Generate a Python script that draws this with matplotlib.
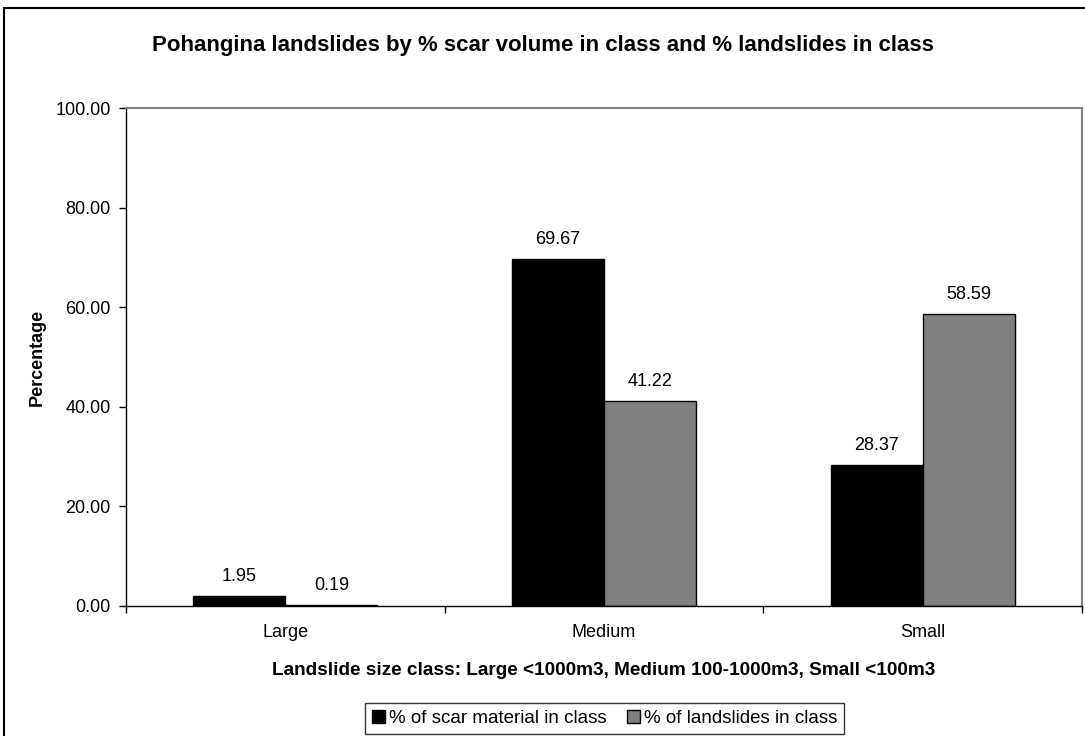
import matplotlib
matplotlib.use("Agg")
import matplotlib.pyplot as plt
from matplotlib.patches import Rectangle
import numpy as np

plt.rcParams['font.family'] = ['Liberation Sans', 'DejaVu Sans']

# Data
categories = ["Large", "Medium", "Small"]
scar_pct = [1.95, 69.67, 28.37]
slide_pct = [0.19, 41.22, 58.59]
series_names = ["% of scar material in class", "% of landslides in class"]

fig = plt.figure(figsize=(10.85, 7.36), dpi=100)
ax = fig.add_axes([126/1085, 1 - 606/736, (1082 - 126)/1085, (606 - 108)/736])

x = np.arange(len(categories))
w = 0.289
b1 = ax.bar(x - w/2, scar_pct, w, color="black", edgecolor="black", linewidth=1, label=series_names[0])
b2 = ax.bar(x + w/2, slide_pct, w, color="#808080", edgecolor="black", linewidth=1, label=series_names[1])

for bars, vals in [(b1, scar_pct), (b2, slide_pct)]:
    for r, v in zip(bars, vals):
        ax.annotate(f"{v:.2f}", (r.get_x() + r.get_width()/2, v), xytext=(0, 8),
                    textcoords="offset points", ha="center", va="bottom", fontsize=13)

ax.set_xlim(-0.5, 2.5)
ax.set_ylim(0, 100)
ax.set_yticks(np.arange(0, 101, 20))
ax.set_yticklabels([f"{t:.2f}" for t in np.arange(0, 101, 20)], fontsize=13)
ax.tick_params(axis="y", direction="out", length=5, width=1, pad=6)

# tick marks between categories, labels at centres
ax.set_xticks([-0.5, 0.5, 1.5, 2.5])
ax.set_xticklabels([])
ax.tick_params(axis="x", which="major", direction="out", length=5, width=1)
ax.set_xticks(x, minor=True)
ax.set_xticklabels(categories, minor=True, fontsize=13)
ax.tick_params(axis="x", which="minor", length=0, pad=13)

for s in ["left", "bottom"]:
    ax.spines[s].set_color("black")
    ax.spines[s].set_linewidth(1)
for s in ["top", "right"]:
    ax.spines[s].set_color("#808080")
    ax.spines[s].set_linewidth(1.5)

ax.set_ylabel("Percentage", fontsize=13, fontweight="bold", labelpad=7)
ax.set_xlabel("Landslide size class: Large <1000m3, Medium 100-1000m3, Small <100m3",
              fontsize=13.7, fontweight="bold", labelpad=15)

fig.text(0.5, 1 - 45/736, "Pohangina landslides by % scar volume in class and % landslides in class",
         ha="center", va="center", fontsize=16, fontweight="bold")

leg = fig.legend(handles=[b1, b2], loc="center", bbox_to_anchor=(604.5/1085, 1 - 718.5/736),
                 ncol=2, fontsize=13.5, frameon=True, fancybox=False, handlelength=0.7,
                 handleheight=0.7, handletextpad=0.2, columnspacing=1.1, borderpad=0.35)
leg.get_frame().set_edgecolor("black")
leg.get_frame().set_linewidth(1)

# outer chart border
fig.patches.append(Rectangle((4/1085, -0.1), 2, 1 - 8/736 + 0.1, transform=fig.transFigure,
                             fill=False, edgecolor="black", linewidth=1.5))

fig.savefig("out.png", dpi=100)
